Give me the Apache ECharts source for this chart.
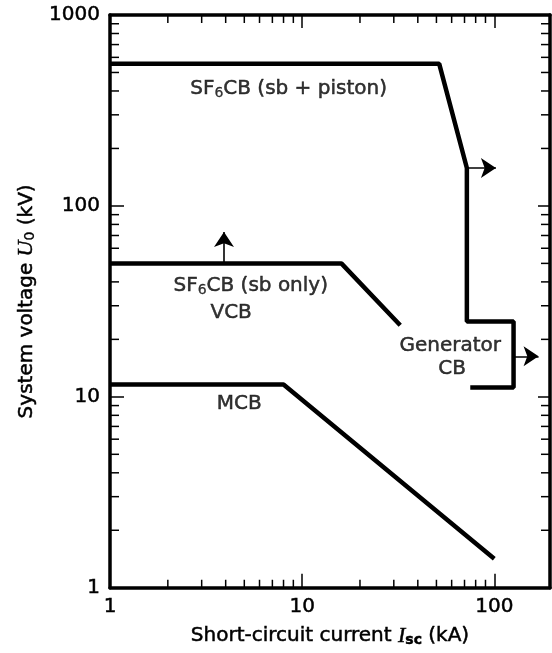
<!DOCTYPE html>
<html>
<head>
<meta charset="utf-8">
<script src="https://cdn.jsdelivr.net/npm/echarts@6/dist/echarts.min.js"></script>
<style>
html,body{margin:0;padding:0;background:#fff;}
#chart{width:552px;height:653px;}
</style>
</head>
<body>
<div id="chart"></div>
<script>
// ---- data (kA, kV) ----
const xTickLabels = [1, 10, 100];
const yTickLabels = [1, 10, 100, 1000];
const xMinorTicks = [2,3,4,5,6,7,8,9,20,30,40,50,60,70,80,90];
const yMinorTicks = [2,3,4,5,6,7,8,9,20,30,40,50,60,70,80,90,200,300,400,500,600,700,800,900];

const sf6Piston = [[1,555],[51.7,555],[72,158],[72,24.8],[126,24.8],[126,11.2],[75,11.2]];
const sf6SbOnly = [[1,50],[16,50],[32.4,23.7]];
const mcb = [[1,11.6],[8,11.6],[100,1.42]];

const arrows = [
  [[72,158],[102,158]],
  [[126,16.3],[170,16.3]],
  [[3.92,50],[3.92,73]]
];

const annotations = [
  {name:'SF{s|6}CB (sb + piston)', value:[8.5,410]},
  {name:'SF{s|6}CB (sb only)', value:[5.4,38]},
  {name:'VCB', value:[4.27,27.5]},
  {name:'Generator', value:[59,18.6]},
  {name:'CB', value:[60.4,14]},
  {name:'MCB', value:[4.7,9.2]}
];

const FONT = 'DejaVu Sans';
const TB = {textBorderColor:'#000', textBorderWidth:0.5};
const chart = echarts.init(document.getElementById('chart'), null, {renderer:'canvas'});

function tickLines(isX){
  return function(params, api){
    const cs = params.coordSys;
    const v = api.value(0);
    const ch = [];
    const st = {stroke:'#000', lineWidth:1.5};
    if (isX){
      const x = api.coord([v, 1])[0];
      const yb = cs.y + cs.height, yt = cs.y;
      ch.push({type:'line', shape:{x1:x,y1:yb,x2:x,y2:yb-8}, style:st});
      ch.push({type:'line', shape:{x1:x,y1:yt,x2:x,y2:yt+8}, style:st});
    } else {
      const y = api.coord([1, v])[1];
      const xl = cs.x, xr = cs.x + cs.width;
      ch.push({type:'line', shape:{x1:xl,y1:y,x2:xl+9,y2:y}, style:st});
      ch.push({type:'line', shape:{x1:xr,y1:y,x2:xr-9,y2:y}, style:st});
    }
    return {type:'group', children:ch};
  };
}

const baseAxis = {
  type:'log', logBase:10,
  axisLine:{show:true, onZero:false, lineStyle:{color:'#000', width:3.5}},
  axisTick:{show:true, inside:true, length:14, lineStyle:{color:'#000', width:1.5}},
  splitLine:{show:false},
  minorTick:{show:false}
};

const lineStyle = {color:'#000', width:4.5};

const option = {
  animation:false,
  backgroundColor:'#fff',
  grid:{left:110, right:2, top:15, bottom:64, containLabel:false},
  xAxis:[
    Object.assign({}, baseAxis, {
      min:1, max:195, position:'bottom',
      axisLabel:Object.assign({show:true, margin:9, color:'#000', fontFamily:FONT, fontSize:20,
        formatter: v => xTickLabels.some(t => Math.abs(t - v) < 1e-6) ? String(Math.round(v)) : '',
        showMaxLabel:false}, TB),
      name:'Short-circuit current {i|I}{sub|sc} (kA)',
      nameLocation:'middle', nameGap:37,
      nameTextStyle:Object.assign({color:'#000', fontFamily:FONT, fontSize:20,
        rich:{
          i:Object.assign({fontFamily:'Liberation Serif', fontStyle:'italic', fontSize:22, color:'#000'}, TB),
          sub:{fontFamily:FONT, fontSize:14, fontWeight:'bold', color:'#000', padding:[9,0,0,0]}
        }}, TB)
    }),
    Object.assign({}, baseAxis, {
      min:1, max:195, position:'top',
      axisTick:{show:true, inside:true, length:13, lineStyle:{color:'#000', width:1.5}},
      axisLabel:{show:false}
    })
  ],
  yAxis:[
    Object.assign({}, baseAxis, {
      min:1, max:1000, position:'left',
      axisLabel:Object.assign({show:true, margin:10, color:'#000', fontFamily:FONT, fontSize:20,
        formatter: v => yTickLabels.some(t => Math.abs(t - v) < 1e-6) ? String(Math.round(v)) : ''}, TB),
      name:'System voltage {i|U}{sub|0} (kV)',
      nameLocation:'middle', nameGap:72, nameRotate:90,
      nameTextStyle:Object.assign({color:'#000', fontFamily:FONT, fontSize:20,
        rich:{
          i:Object.assign({fontFamily:'Liberation Serif', fontStyle:'italic', fontSize:22, color:'#000'}, TB),
          sub:{fontFamily:FONT, fontSize:14, color:'#000', padding:[9,0,0,0], textBorderColor:'#000', textBorderWidth:0.3}
        }}, TB)
    }),
    Object.assign({}, baseAxis, {
      min:1, max:1000, position:'right',
      axisTick:{show:true, inside:true, length:12, lineStyle:{color:'#000', width:1.5}},
      axisLabel:{show:false}
    })
  ],
  series:[
    {type:'custom', name:'xminor', xAxisIndex:0, yAxisIndex:0, clip:false, silent:true,
      renderItem:tickLines(true), data: xMinorTicks.map(v => [v, 1]), z:5},
    {type:'custom', name:'yminor', xAxisIndex:0, yAxisIndex:0, clip:false, silent:true,
      renderItem:tickLines(false), data: yMinorTicks.map(v => [v]), encode:{x:-1, y:0}, z:5,
      dimensions:['v']},
    {type:'line', name:'SF6CB (sb + piston)', data:sf6Piston, symbol:'none', lineStyle:lineStyle, z:3},
    {type:'line', name:'SF6CB (sb only)', data:sf6SbOnly, symbol:'none', lineStyle:lineStyle, z:3},
    {type:'line', name:'MCB', data:mcb, symbol:'none', lineStyle:lineStyle, z:3},
    {type:'lines', coordinateSystem:'cartesian2d', xAxisIndex:0, yAxisIndex:0,
      data: arrows.map(a => ({coords:a})),
      symbol:['none','arrow'], symbolSize:[10,15],
      lineStyle:{color:'#000', width:1.6, opacity:1, curveness:0}, z:4},
    {type:'scatter', name:'labels', symbolSize:0, data:annotations, silent:true,
      label:Object.assign({show:true, position:'inside', formatter: p => p.name, color:'#000',
        fontFamily:FONT, fontSize:20,
        rich:{s:{fontFamily:FONT, fontSize:14, color:'#000', padding:[9,0,0,0], textBorderColor:'#000', textBorderWidth:0.3}}}, TB), z:6}
  ]
};
chart.setOption(option);
</script>
</body>
</html>
